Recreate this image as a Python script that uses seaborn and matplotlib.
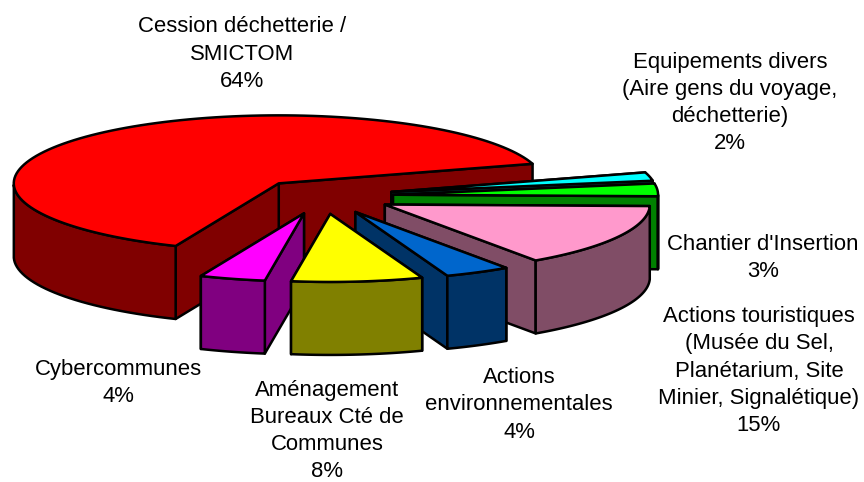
import numpy as np
import seaborn as sns
import matplotlib.pyplot as plt

labels = [
    "Cession déchetterie /\nSMICTOM\n64%",
    "Cybercommunes\n4%",
    "Aménagement\nBureaux Cté de\nCommunes\n8%",
    "Actions\nenvironnementales\n4%",
    "Actions touristiques\n(Musée du Sel,\nPlanétarium, Site\nMinier, Signalétique)\n15%",
    "Chantier d'Insertion\n3%",
    "Equipements divers\n(Aire gens du voyage,\ndéchetterie)\n2%",
]
shares = [64, 4, 8, 4, 15, 3, 2]
top_colors = ["#FF0000", "#FF00FF", "#FFFF00", "#0066CC", "#FF99CC", "#00FF00", "#00FFFF"]
side_colors = ["#800000", "#800080", "#808000", "#003366", "#804D66", "#008000", "#008080"]

# where each label is centred (pixels of the original picture)
label_pos = [(242, 54), (118, 383), (327, 431), (519, 405), (759, 371), (763, 258), (730, 103)]

# pie geometry, pixels
CX, CY = 323, 196
RX, RY = 265, 68
DEPTH = 73
START = 16.7
explode = [0.25, 0.265, 0.265, 0.265, 0.265, 0.265, 0.265]
# back to front
DRAW_ORDER = [0, 6, 5, 4, 3, 1, 2]

sns.set_theme(style="white")
plt.rcParams["font.family"] = ["Liberation Sans", "DejaVu Sans"]


def draw_slice(ax, a0, a1, blow, top, side):
    mid = np.radians((a0 + a1) / 2)
    x0 = CX + blow * RX * np.cos(mid)
    y0 = CY - blow * RY * np.sin(mid)
    t = np.radians(np.linspace(a0, a1, 120))
    arc_x = x0 + RX * np.cos(t)
    arc_y = y0 - RY * np.sin(t)
    style = dict(edgecolor="black", linewidth=1.8, joinstyle="round")

    # cut faces, the one further back first, then the rim, then the top
    ends = (0, -1) if arc_y[0] < arc_y[-1] else (-1, 0)
    for i in ends:
        ax.fill([x0, arc_x[i], arc_x[i], x0],
                [y0, arc_y[i], arc_y[i] + DEPTH, y0 + DEPTH], facecolor=side, **style)
    front = np.sin(t) < 0
    if front.any():
        rim_x = arc_x[front]
        rim_y = arc_y[front]
        ax.fill(np.r_[rim_x, rim_x[::-1]], np.r_[rim_y, rim_y[::-1] + DEPTH], facecolor=side, **style)
    ax.fill(np.r_[x0, arc_x], np.r_[y0, arc_y], facecolor=top, **style)


def main():
    fig = plt.figure(figsize=(8.64, 4.82), dpi=100)
    ax = fig.add_axes([0, 0, 1, 1])
    ax.set_xlim(0, 864)
    ax.set_ylim(482, 0)
    ax.axis("off")

    edges = START + np.r_[0, np.cumsum(shares)] * 3.6
    for i in DRAW_ORDER:
        draw_slice(ax, edges[i], edges[i + 1], explode[i], top_colors[i], side_colors[i])

    for text, (x, y) in zip(labels, label_pos):
        ax.text(x, y, text, ha="center", va="center", fontsize=15.9, color="black", linespacing=1.38)

    fig.savefig("out.png", dpi=100)


if __name__ == "__main__":
    main()
